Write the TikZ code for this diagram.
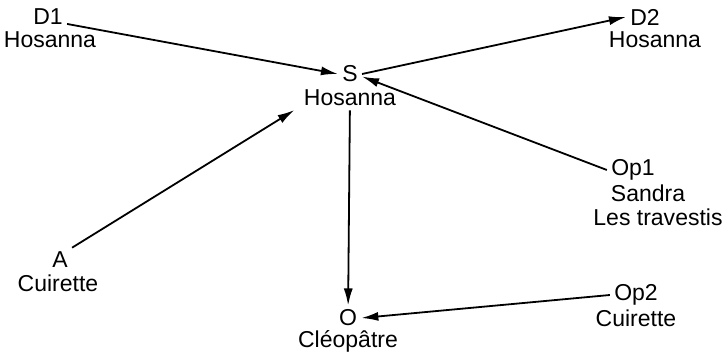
\documentclass[tikz,border=0pt]{standalone}
\usepackage{fontspec}
\setmainfont{Liberation Sans}
\usetikzlibrary{arrows.meta}
\tikzset{
  lbl/.style={inner sep=2pt, font=\fontsize{11.5}{13}\selectfont},
  arr/.style={-{Latex[length=8.5pt,width=4.5pt]}, line width=0.9pt},
}
\begin{document}
\begin{tikzpicture}[x=0.5pt,y=-0.5pt]
\useasboundingbox (0,0) rectangle (726,363);
\node[lbl] (d1) at (48,17) {D1};
\node[lbl] (d1n) at (50,40) {Hosanna};
\node[lbl] (s) at (350,74) {S};
\node[lbl] (sn) at (350,98) {Hosanna};
\node[lbl] (d2) at (645,17) {D2};
\node[lbl] (d2n) at (655,40) {Hosanna};
\node[lbl] (op1) at (633,170) {Op1};
\node[lbl] (op1n) at (648,193) {Sandra};
\node[lbl] (op1m) at (658,217) {Les travestis};
\node[lbl] (a) at (60,260) {A};
\node[lbl] (an) at (58,283) {Cuirette};
\node[lbl] (o) at (348,318) {O};
\node[lbl] (on) at (348,341) {Cléopâtre};
\node[lbl] (op2) at (636,295) {Op2};
\node[lbl] (op2n) at (636,318) {Cuirette};

\draw[arr] (d1.-20) -- (s.west);
\draw[arr] (s.east) -- (d2.west);
\draw[arr] (op1.west) -- (s.-12);
\draw[arr,shorten >=3pt] (a.north east) -- (sn.190);
\draw[arr] (sn) -- (o);
\draw[arr] (op2.west) -- (o.east);
\end{tikzpicture}
\end{document}
